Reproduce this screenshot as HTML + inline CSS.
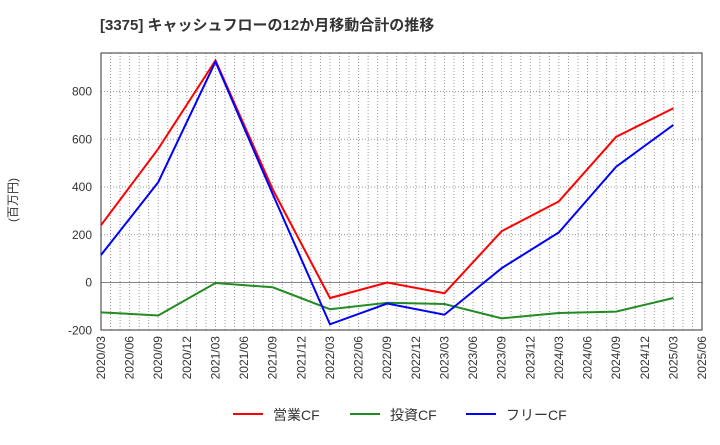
<!DOCTYPE html>
<html><head><meta charset="utf-8"><style>
body{margin:0;background:#fff;}
svg text{font-family:"Liberation Sans","Noto Sans CJK JP",sans-serif;}
</style></head><body>
<svg id="c" width="720" height="440" xmlns="http://www.w3.org/2000/svg">
<text x="100" y="30" font-size="15" font-weight="bold" fill="#333">[3375]  キャッシュフローの12か月移動合計の推移</text>
<text transform="translate(17,200) rotate(-90)" font-size="12" fill="#333" text-anchor="middle">(百万円)</text>
<g id="grid"></g><g id="axes"></g><g id="series"></g>
<g>
<line x1="233" y1="414" x2="263" y2="414" stroke="#f00" stroke-width="2"/>
<text x="273" y="420" font-size="14" fill="#333">営業CF</text>
<line x1="350" y1="414" x2="380" y2="414" stroke="#228b22" stroke-width="2"/>
<text x="390" y="420" font-size="14" fill="#333">投資CF</text>
<line x1="466" y1="414" x2="496" y2="414" stroke="#00f" stroke-width="2"/>
<text x="506" y="420" font-size="14" fill="#333">フリーCF</text>
</g>
</svg>
<script>
const categories=["2020/03","2020/09","2021/03","2021/09","2022/03","2022/09","2023/03","2023/09","2024/03","2024/09","2025/03"];
const operatingCF=[240,560,930,390,-65,0,-45,215,340,610,730];
const investingCF=[-125,-138,-2,-20,-112,-85,-90,-150,-128,-122,-65];
const freeCF=[115,420,925,370,-175,-88,-135,60,210,485,660];
const yTicks=[-200,0,200,400,600,800];
const xTickLabels=["2020/03","2020/06","2020/09","2020/12","2021/03","2021/06","2021/09","2021/12","2022/03","2022/06","2022/09","2022/12","2023/03","2023/06","2023/09","2023/12","2024/03","2024/06","2024/09","2024/12","2025/03","2025/06"];
const NS="http://www.w3.org/2000/svg";
const L=101,R=702,T=53,B=330;
const months=63;
function mi(lbl){const [y,m]=lbl.split('/').map(Number);return (y-2020)*12+(m-3);}
const X=l=>L+(R-L)*mi(l)/months;
const Y=v=>282.5-(v)*(191/800);
function el(t,a,p){const e=document.createElementNS(NS,t);for(const k in a)e.setAttribute(k,a[k]);p.appendChild(e);return e;}
const grid=document.getElementById('grid'),axes=document.getElementById('axes'),ser=document.getElementById('series');
for(let m=1;m<months;m++){const x=L+(R-L)*m/months;
const g=el('line',{x1:x,x2:x,y1:T,y2:B,stroke:'#999','stroke-width':1,'stroke-dasharray':'1,2'},grid);

}
yTicks.forEach(v=>{const y=Y(v);
if(v!==-200){const g=el('line',{x1:L,x2:R,y1:y,y2:y,stroke:v===0?'#888':'#999','stroke-width':1,'stroke-dasharray':v===0?'':'1,2'},grid);

}
const t=el('text',{x:L-9,y:y+4,'font-size':12,fill:'#333','text-anchor':'end'},axes);t.textContent=v;

});
const fr=el('rect',{x:L,y:T,width:R-L,height:B-T,fill:'none',stroke:'#333','stroke-width':1},axes);


xTickLabels.forEach(l=>{const x=X(l);
const t=el('text',{transform:`translate(${x+4},${B+6}) rotate(-90)`,'font-size':12,fill:'#333','text-anchor':'end'},axes);t.textContent=l;

});
function line(data,color,name){const pts=data.map((v,i)=>X(categories[i])+','+Y(v)).join(' ');
const p=el('polyline',{points:pts,fill:'none',stroke:color,'stroke-width':2},ser);

}
line(investingCF,'#228b22','investing-cf-line');
line(operatingCF,'#ff0000','operating-cf-line');
line(freeCF,'#0000ff','free-cf-line');
</script>
</body></html>
